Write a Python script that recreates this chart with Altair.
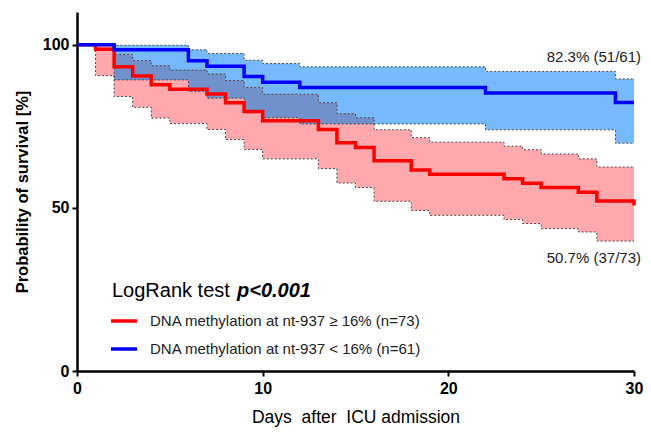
import altair as alt
import pandas as pd

# ---------------- data ----------------
# DNA methylation >= 16% (n=73): Kaplan-Meier estimate and 95% CI (percent)
red_days = [0, 1, 2, 3, 4, 5, 7, 8, 9, 10, 13, 14, 15, 16, 18, 19, 23, 24, 25, 27, 28, 30]
red_surv = [100, 98.6, 93.2, 90.4, 87.7, 86.3, 84.9, 82.2, 79.5, 76.7, 74.0, 69.9, 68.5,
            64.4, 61.6, 60.3, 58.9, 57.5, 56.2, 54.8, 52.1, 50.7]
red_upper = [100, 99.8, 97.0, 95.1, 93.5, 92.2, 91.0, 89.0, 86.9, 84.8, 82.2, 78.8, 77.6,
             73.9, 71.5, 70.1, 68.9, 67.8, 66.5, 65.0, 62.5, 62.5]
red_lower = [100, 90.5, 84.1, 80.8, 77.5, 75.8, 74.0, 70.9, 67.9, 65.0, 62.0, 57.6, 56.2,
             52.0, 49.2, 47.7, 46.4, 45.2, 43.6, 42.6, 39.8, 39.8]

# DNA methylation < 16% (n=61)
blue_days = [0, 2, 6, 7, 9, 10, 12, 22, 29, 30]
blue_surv = [100, 98.4, 95.1, 93.4, 90.2, 88.5, 86.9, 85.2, 82.3, 82.3]
blue_upper = [100, 99.8, 98.4, 97.3, 95.2, 94.2, 93.2, 91.8, 89.5, 89.5]
blue_lower = [100, 89.2, 85.7, 83.6, 79.5, 77.6, 75.7, 73.9, 69.8, 69.8]

legend_labels = ["DNA methylation at nt-937 \u2265 16% (n=73)",
                 "DNA methylation at nt-937 < 16% (n=61)"]
end_labels = ["82.3% (51/61)", "50.7% (37/73)"]
test_label = ["LogRank test"]
p_label = ["p<0.001"]
x_ticks = [0, 10, 20, 30]
y_ticks = [0, 50, 100]

# ---------------- styling ----------------
RED = "#ff0000"
BLUE = "#0000ff"
PINK = "#ffa8ad"
LBLUE = "#76b9fc"
OVER = "#7191cd"
DASH = "#4a4a4a"
SANS = "Liberation Sans, Arial, sans-serif"


def step_at(days, vals, t):
    v = vals[0]
    for d, val in zip(days, vals):
        if d <= t:
            v = val
    return v


red_band = pd.DataFrame({"day": red_days, "lo": red_lower, "hi": red_upper})
blue_band = pd.DataFrame({"day": blue_days, "lo": blue_lower, "hi": blue_upper})

union = sorted(set(red_days) | set(blue_days))
ov_lo, ov_hi = [], []
for t in union:
    lo = max(step_at(blue_days, blue_lower, t), step_at(red_days, red_lower, t))
    hi = min(step_at(blue_days, blue_upper, t), step_at(red_days, red_upper, t))
    ov_lo.append(lo)
    ov_hi.append(max(hi, lo))
over_band = pd.DataFrame({"day": union, "lo": ov_lo, "hi": ov_hi})

outline_rows = []
for name, days, vals in [("ru", red_days, red_upper), ("rl", red_days, red_lower),
                         ("bu", blue_days, blue_upper), ("bl", blue_days, blue_lower)]:
    for d, v in zip(days, vals):
        outline_rows.append({"key": name, "day": d, "val": v})
outlines = pd.DataFrame(outline_rows)

red_line = pd.DataFrame({"day": red_days, "val": red_surv, "grp": legend_labels[0]})
blue_line = pd.DataFrame({"day": blue_days, "val": blue_surv, "grp": legend_labels[1]})

xs = alt.Scale(domain=[0, 30], nice=False, zero=False)
ys = alt.Scale(domain=[0, 110], nice=False)

common_axis = dict(
    grid=False, domainColor="black", domainWidth=2.5, tickColor="black", tickWidth=2,
    tickSize=5, labelColor="black", labelFont=SANS, labelFontWeight="bold",
    labelFontSize=16, titleColor="black",
)
xaxis = alt.Axis(values=x_ticks, title="Days\u00a0 after\u00a0 ICU admission",
                 labelPadding=4, titleFont=SANS, titleFontSize=17.5,
                 titleFontWeight="normal", titlePadding=12, labelFlush=False,
                 **common_axis)
yaxis = alt.Axis(values=y_ticks, title="Probability of survival [%]", labelPadding=3,
                 titleFont=SANS, titleFontSize=16.5, titleFontWeight="bold",
                 titlePadding=12, **common_axis)

X = alt.X("day:Q", scale=xs, axis=xaxis)


def band(df, color):
    return alt.Chart(df).mark_area(interpolate="step-after", color=color, opacity=1).encode(
        x=X, y=alt.Y("lo:Q", scale=ys, axis=yaxis), y2="hi:Q")


outline_layer = alt.Chart(outlines).mark_line(
    interpolate="step-after", color=DASH, strokeWidth=1, strokeDash=[2, 2]
).encode(x=X, y=alt.Y("val:Q", scale=ys, axis=yaxis), detail="key:N")

color = alt.Color(
    "grp:N",
    scale=alt.Scale(domain=legend_labels, range=[RED, BLUE]),
    legend=alt.Legend(
        title=None, orient="none", legendX=32, legendY=294, symbolType="stroke",
        symbolSize=676, symbolStrokeWidth=3.5, labelOffset=11, rowPadding=5, padding=0,
        labelFont=SANS, labelFontSize=15, labelColor="#222222", labelLimit=0,
    ),
)


def curve(df):
    return alt.Chart(df).mark_line(interpolate="step-after", strokeWidth=3.5).encode(
        x=X, y=alt.Y("val:Q", scale=ys, axis=yaxis), color=color)


def label(txt, x, y, size, weight="normal", style="normal", align="left"):
    return alt.Chart(pd.DataFrame({"t": txt})).mark_text(
        align=align, baseline="alphabetic", font=SANS, fontSize=size, fontWeight=weight,
        fontStyle=style, color="#222222" if size < 18 else "black"
    ).encode(text="t:N", x=alt.value(x), y=alt.value(y))


chart = alt.layer(
    band(blue_band, LBLUE),
    band(red_band, PINK),
    band(over_band, OVER),
    outline_layer,
    curve(red_line),
    curve(blue_line),
    label([end_labels[0]], 564, 50, 15, align="right"),
    label([end_labels[1]], 564, 251, 15, align="right"),
    label(test_label, 35, 285, 20),
    label(p_label, 160, 285, 20, weight="bold", style="italic"),
).properties(
    width=557, height=359,
    autosize=alt.AutoSizeParams(type="none"),
    padding={"left": 69, "top": 4, "right": 9, "bottom": 56},
).configure_view(stroke=None)

chart.save("out.html", embed_options={"renderer": "svg", "actions": False})
